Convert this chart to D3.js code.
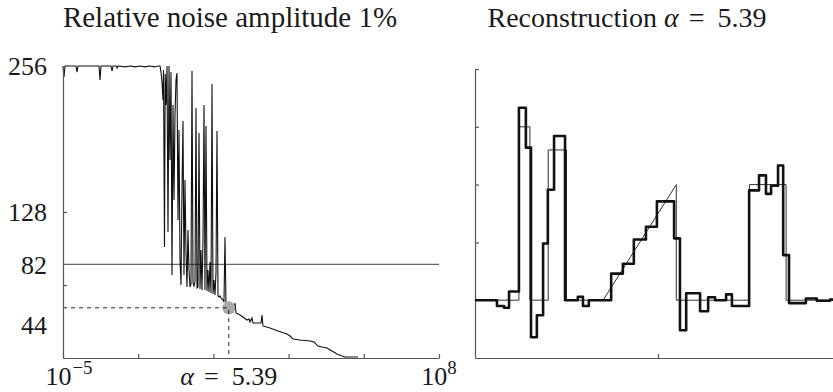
<!DOCTYPE html>
<meta charset="utf-8">
<style>
    body { margin: 0; background: #fff; }
    text { font-family: "Liberation Serif", "DejaVu Serif", serif; fill: #1a1a1a; }
    .axis path, .axis line { stroke: #555; stroke-width: 1.2; }
</style>
<svg width="833" height="392"></svg>
<script src="https://cdn.jsdelivr.net/npm/d3@7/dist/d3.min.js"></script>
<script>
    // left panel: curve against log10(alpha)
    var logAlpha = [
        -5.000, -4.965, -4.931, -4.551, -4.516, -4.481, -3.755, -3.721, -3.686, -3.340, -3.306, -3.271,
        -3.168, -3.133, -3.098, -2.856, -2.684, -2.511, -2.338, -2.165, -1.992, -1.819, -1.715,
        -1.646, -1.612, -1.577, -1.543, -1.525, -1.491, -1.467, -1.439, -1.404, -1.370, -1.335, -1.301,
        -1.266, -1.231, -1.197, -1.162, -1.128, -1.093, -1.059, -1.024, -0.990, -0.955, -0.920, -0.886,
        -0.851, -0.817, -0.782, -0.748, -0.713, -0.678, -0.644, -0.609, -0.575, -0.540, -0.505, -0.471,
        -0.436, -0.402, -0.367, -0.333, -0.298, -0.263, -0.229, -0.194, -0.160, -0.125, -0.091, -0.056,
        -0.021, 0.013, 0.048, 0.082, 0.117, 0.152, 0.186, 0.221, 0.255, 0.290, 0.324, 0.359,
        0.394, 0.428, 0.463, 0.497, 0.532, 0.566, 0.601, 0.635, 0.732,
        0.878, 0.947, 0.981, 1.120, 1.223, 1.362, 1.431, 1.465, 1.534, 1.569, 1.638, 1.846,
        1.880, 1.915, 2.157, 2.434, 2.745, 2.848, 2.952, 3.194, 3.540, 3.678, 3.816, 3.954,
        4.127, 4.300, 4.473, 4.646, 4.750, 5.199
    ];
    var curveVal = [
        256, 246.4, 256, 256, 250.7, 256, 256, 243.7, 256, 256, 251.6, 256,
        256, 254.3, 256, 255.2, 256, 255.2, 256, 255.2, 256, 255.2, 256,
        256, 250.7, 242.0, 226.2, 252.5, 97.3, 249.0, 221.8, 256, 110.5, 256, 173.6,
        250.7, 72.8, 221.8, 138.5, 213.0, 243.7, 249.9, 121.0, 199.9, 85.9, 64.0, 147.3,
        207.8, 72.8, 156.1, 94.7, 62.2, 112.2, 77.2, 62.2, 64.9, 251.6, 65.8, 63.1,
        66.6, 219.2, 61.4, 62.2, 197.3, 60.5, 94.7, 59.6, 103.5, 221.8, 59.6, 203.4,
        58.7, 77.2, 57.9, 84.2, 57.0, 240.2, 56.1, 68.4, 55.2, 75.4, 199.0, 54.4,
        53.5, 54.4, 52.6, 51.7, 50.9, 49.1, 106.1, 47.3, 44,
        40.3, 48.2, 39.5, 37.7, 35.9, 33.3, 34.2, 31.6, 35.1, 30.7, 30.7, 30.7,
        37.7, 28.1, 26.3, 23.7, 21.0, 19.3, 16.7, 15.8, 14.9, 14.0, 10.5, 9.6,
        8.8, 6.1, 3.5, 1.8, 0.9, 0.9
    ];
    var alphaSel = 5.39, valSel = 44, refLevel = 82;
    var leftTickExp = [-5, -2.4, 0.2, 2.8, 5.4, 8];
    var leftYTicks = [64, 128];
    var leftYLabels = [256, 128, 82];

    // right panel: true signal (thin) and reconstruction (thick)
    var trueT = [0, 0.12, 0.12, 0.15, 0.15, 0.20, 0.20, 0.25, 0.25, 0.35, 0.55, 0.55, 0.75, 0.75, 0.85, 0.85, 1];
    var trueV = [0, 0, 3, 3, 0, 0, 2.6, 2.6, 0, 0, 2, 0, 0, 2, 2, 0, 0];
    var recT = [0, 0.060, 0.079, 0.093, 0.120, 0.139, 0.153, 0.169, 0.186, 0.199, 0.216, 0.246,
        0.281, 0.295, 0.311, 0.372, 0.404, 0.434, 0.467, 0.497, 0.544, 0.560, 0.577, 0.615,
        0.637, 0.656, 0.686, 0.702, 0.749, 0.776, 0.795, 0.809, 0.828, 0.842, 0.858, 0.904,
        0.934, 0.970, 1];
    var recV = [0, -0.1, -0.13, 0.15, 3.33, 2.64, -0.64, -0.26, 0.98, 1.91, 2.84, 0,
        0.06, -0.1, 0, 0.46, 0.63, 1.05, 1.27, 1.71, 1.07, -0.52, 0.12, -0.19,
        0.05, 0, 0.1, -0.1, 1.9, 2.16, 1.84, 1.98, 2.33, 0.78, -0.05, 0.03,
        -0.01, 0.01, 0.01];
    var rightYTicks = [1, 2, 3, 4];

    var svg = d3.select("svg");

    var x = d3.scaleLog().domain([1e-5, 1e8]).range([63, 439]),
        y = d3.scaleLinear().domain([0, 256]).range([358, 66]);
    var xr = d3.scaleLinear().domain([0, 1]).range([475, 841]),
        yr = d3.scaleLinear().domain([-1, 4]).range([358, 69]);

    // alpha = value, with TeX-like spacing round the "="
    var mathAlpha = function (sel) {
        sel.append("tspan").attr("font-style", "italic").text("\u03b1");
        sel.append("tspan").attr("dx", 10).text("=");
        sel.append("tspan").attr("dx", 13).text(alphaSel);
    };

    var left = svg.append("g");

    left.append("line")
        .attr("x1", x(1e-5)).attr("x2", x(1e8))
        .attr("y1", y(refLevel)).attr("y2", y(refLevel))
        .attr("stroke", "#666").attr("stroke-width", 1.3);

    var data = logAlpha.map(function (d, i) { return [Math.pow(10, d), curveVal[i]]; });
    left.append("path")
        .datum(data)
        .attr("fill", "none").attr("stroke", "#111").attr("stroke-width", 1.1)
        .attr("d", d3.line().x(function (d) { return x(d[0]); }).y(function (d) { return y(d[1]); }));

    left.append("circle")
        .attr("cx", x(alphaSel)).attr("cy", y(valSel)).attr("r", 6.5)
        .attr("fill", "#a9a9a9");

    left.append("path")
        .attr("d", "M" + x(1e-5) + "," + y(valSel) + "H" + x(alphaSel) + "V" + y(0))
        .attr("fill", "none").attr("stroke", "#222").attr("stroke-width", 1)
        .attr("stroke-dasharray", "4,4");

    left.append("g")
        .attr("class", "axis")
        .attr("transform", "translate(0," + y(0) + ")")
        .call(d3.axisBottom(x)
            .tickValues(leftTickExp.map(function (e) { return Math.pow(10, e); }))
            .tickSize(-4).tickSizeOuter(0).tickFormat(""));

    left.append("g")
        .attr("class", "axis")
        .attr("transform", "translate(" + x(1e-5) + ",0)")
        .call(d3.axisLeft(y).tickValues(leftYTicks).tickSize(-4).tickSizeOuter(0).tickFormat(""));

    left.selectAll(".ylab")
        .data(leftYLabels)
        .enter().append("text")
        .attr("x", 47).attr("y", function (d) { return y(d); })
        .attr("dy", "0.35em").attr("text-anchor", "end")
        .attr("font-size", 26)
        .text(function (d) { return d; });

    // the 44 label sits a little under its dashed line
    left.append("text")
        .attr("x", 47).attr("y", y(valSel) + 17)
        .attr("dy", "0.35em").attr("text-anchor", "end")
        .attr("font-size", 26)
        .text(valSel);

    var lx1 = left.append("text").attr("x", x(1e-5) + 6).attr("y", 385)
        .attr("text-anchor", "middle").attr("font-size", 26);
    lx1.append("tspan").text("10");
    lx1.append("tspan").attr("dx", 1).attr("dy", -11).attr("font-size", 19).text("\u22125");

    var lx2 = left.append("text").attr("x", x(1e8)).attr("y", 385)
        .attr("text-anchor", "middle").attr("font-size", 26);
    lx2.append("tspan").text("10");
    lx2.append("tspan").attr("dy", -11).attr("font-size", 19).text("8");

    left.append("text").attr("x", x(alphaSel)).attr("y", 385)
        .attr("text-anchor", "middle").attr("font-size", 26)
        .call(mathAlpha);

    svg.append("text").attr("x", 230).attr("y", 27)
        .attr("text-anchor", "middle").attr("font-size", 29)
        .text("Relative noise amplitude 1%");

    var rt = svg.append("text").attr("x", 627).attr("y", 27)
        .attr("text-anchor", "middle").attr("font-size", 28);
    rt.append("tspan").text("Reconstruction ");
    rt.call(mathAlpha);

    // right panel
    var right = svg.append("g");

    right.append("g")
        .attr("class", "axis")
        .attr("transform", "translate(0," + yr(-1) + ")")
        .call(d3.axisBottom(xr).tickValues([0.5]).tickSize(-4).tickSizeOuter(0).tickFormat(""));

    right.append("g")
        .attr("class", "axis")
        .attr("transform", "translate(" + xr(0) + ",0)")
        .call(d3.axisLeft(yr).tickValues(rightYTicks).tickSize(-4).tickSizeOuter(0).tickFormat(""));

    right.append("path")
        .datum(trueT.map(function (t, i) { return [t, trueV[i]]; }))
        .attr("fill", "none").attr("stroke", "#333").attr("stroke-width", 1)
        .attr("d", d3.line().x(function (d) { return xr(d[0]); }).y(function (d) { return yr(d[1]); }));

    right.append("path")
        .datum(recT.map(function (t, i) { return [t, recV[i]]; }))
        .attr("fill", "none").attr("stroke", "#111").attr("stroke-width", 2.6)
        .attr("stroke-linejoin", "round")
        .attr("d", d3.line().curve(d3.curveStepAfter)
            .x(function (d) { return xr(d[0]); }).y(function (d) { return yr(d[1]); }));
</script>
